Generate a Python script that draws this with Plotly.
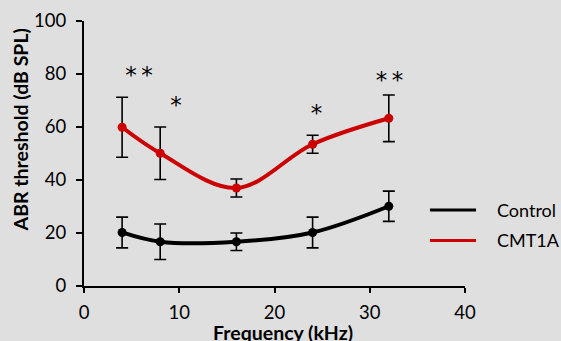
import plotly.graph_objects as go

freq = [4, 8, 16, 24, 32]
control = [20.2, 16.7, 16.7, 20.2, 30.1]
control_err = [5.8, 6.7, 3.3, 5.8, 5.7]
cmt1a = [59.9, 50.1, 37.0, 53.5, 63.3]
cmt1a_err = [11.3, 9.9, 3.4, 3.4, 8.8]

sig_x = [5.77, 9.66, 24.4, 32.07]
sig_y = [78.6, 67.3, 64.3, 76.8]
sig_txt = ["*\u2009*", "*", "*", "*\u2009*"]

x_ticks = [0, 10, 20, 30, 40]
y_ticks = [0, 20, 40, 60, 80, 100]

series_names = ["Control", "CMT1A"]

BG = "#dfdfdf"
RED = "#cc0000"
FONT = "Lato, Carlito, Calibri, sans-serif"

fig = go.Figure()

for name, y, err, col in [(series_names[0], control, control_err, "black"),
                          (series_names[1], cmt1a, cmt1a_err, RED)]:
    fig.add_trace(go.Scatter(
        x=freq, y=y, mode="lines+markers", name=name, showlegend=False,
        line=dict(color=col, width=4, shape="spline", smoothing=1.0),
        marker=dict(color=col, size=9),
        error_y=dict(type="data", array=err, visible=True, color="black",
                     thickness=1.6, width=6),
    ))

fig.add_trace(go.Scatter(
    x=sig_x, y=sig_y, mode="text", text=sig_txt, showlegend=False,
    textfont=dict(size=23, color="black", family="DejaVu Sans"),
    textposition="middle center", hoverinfo="skip",
))

# manual legend
leg_y = [0.287, 0.172]
for name, col, ly in zip(series_names, ["black", RED], leg_y):
    fig.add_shape(type="line", xref="paper", yref="paper",
                  x0=0.908, x1=1.029, y0=ly, y1=ly,
                  line=dict(color=col, width=3))
    fig.add_annotation(x=1.079, y=ly, xref="paper", yref="paper",
                       text=name, showarrow=False, xanchor="left", yanchor="middle",
                       font=dict(size=18, family=FONT, color="black"))

fig.add_annotation(x=0.521, y=-0.175, xref="paper", yref="paper",
                   text="<b>Frequency (kHz)</b>", showarrow=False,
                   xanchor="center", yanchor="middle",
                   font=dict(size=19.5, family=FONT, color="black"))
fig.add_annotation(x=-0.1667, y=0.589, xref="paper", yref="paper",
                   text="<b>ABR threshold (dB SPL)</b>", showarrow=False, textangle=-90,
                   xanchor="center", yanchor="middle",
                   font=dict(size=19.5, family=FONT, color="black"))

fig.update_layout(
    width=561, height=341,
    margin=dict(l=84, r=96, t=21, b=55),
    paper_bgcolor=BG, plot_bgcolor=BG,
    font=dict(family=FONT, color="black"),
    showlegend=False,
)
fig.update_xaxes(
    range=[0, 40], tickvals=x_ticks, showgrid=False, zeroline=False, automargin=False,
    showline=True, linecolor="black", linewidth=2, ticks="outside",
    ticklen=5, tickwidth=2, tickcolor="black", ticklabelstandoff=4,
    tickfont=dict(size=18.5, family=FONT),
)
fig.update_yaxes(
    range=[0, 100], tickvals=y_ticks, showgrid=False, zeroline=False, automargin=False,
    showline=True, linecolor="black", linewidth=2, ticks="outside",
    ticklen=6, tickwidth=2, tickcolor="black", ticklabelstandoff=6,
    tickfont=dict(size=18.5, family=FONT),
)

fig.write_html("out.html", config={"displayModeBar": False},
               post_script="document.body.style.margin='0';document.body.style.background='%s';" % BG)
